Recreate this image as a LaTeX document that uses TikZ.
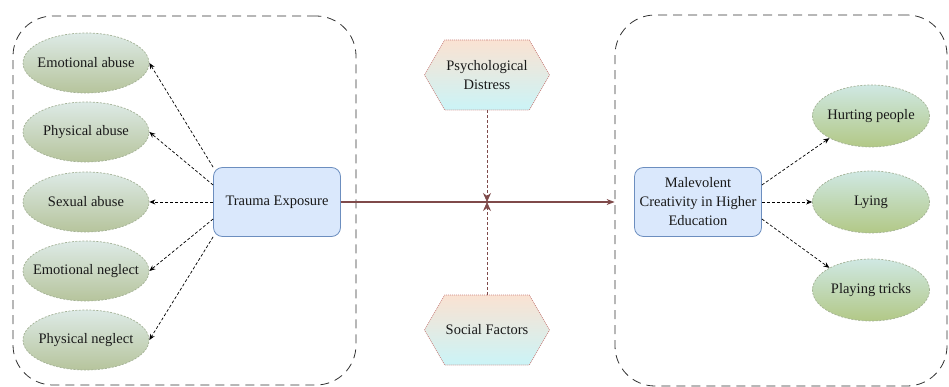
\documentclass[tikz,border=0pt]{standalone}
\usepackage{fontspec}
\setmainfont{Liberation Serif}
\usetikzlibrary{shapes.geometric,shapes.symbols,arrows.meta}

\definecolor{boxfill}{HTML}{DAE8FC}
\definecolor{boxdraw}{HTML}{6C8EBF}
\definecolor{ovaldraw}{HTML}{A3B195}
\definecolor{lefttop}{HTML}{DDEAE6}
\definecolor{leftbot}{HTML}{B6C49C}
\definecolor{righttop}{HTML}{CFE8E3}
\definecolor{rightbot}{HTML}{B2C886}
\definecolor{hexdraw}{HTML}{C8817D}
\definecolor{hextop}{HTML}{FAE2D2}
\definecolor{hexbot}{HTML}{CBF4F7}
\definecolor{mainline}{HTML}{7F4A4A}

\begin{document}
\begin{tikzpicture}[x=1pt, y=-1pt,
    font=\fontsize{14.5}{19}\selectfont, text=black!90,
    group/.style={rectangle, draw=black!80, line width=0.8pt, dash pattern=on 9pt off 6pt, rounded corners=40pt, inner sep=0pt},
    leftoval/.style={ellipse, draw=ovaldraw, line width=0.7pt, dash pattern=on 2pt off 1.5pt, top color=lefttop, bottom color=leftbot, minimum width=126pt, minimum height=60pt, inner sep=0pt},
    rightoval/.style={ellipse, draw=ovaldraw, line width=0.7pt, dash pattern=on 2pt off 1.5pt, top color=righttop, bottom color=rightbot, minimum width=117pt, minimum height=62pt, inner sep=0pt},
    block/.style={rectangle, rounded corners=9pt, draw=boxdraw, fill=boxfill, line width=0.8pt, minimum width=127pt, minimum height=69pt, align=center, inner sep=2pt},
    hexa/.style={signal, signal to=east and west, signal pointer angle=120, draw=hexdraw, line width=0.7pt, dash pattern=on 1pt off 1pt, top color=hextop, bottom color=hexbot, minimum width=125pt, minimum height=70pt, align=center, inner sep=0pt},
    link/.style={-{Stealth[length=6pt,width=5pt]}, line width=0.7pt, dash pattern=on 3pt off 2pt},
    mainlink/.style={draw=mainline, line width=1.1pt, -{Stealth[length=8pt,width=6pt]}},
    modlink/.style={draw=mainline, line width=0.7pt, dash pattern=on 3pt off 2pt, -{Stealth[length=9pt,width=8pt]}}]

    \useasboundingbox (0,0) rectangle (949,387);

    % dashed groups
    \node[group, minimum width=343pt, minimum height=369pt] (lgroup) at (184.5,200.5) {};
    \node[group, minimum width=332pt, minimum height=371pt] (rgroup) at (781,200.5) {};

    % left side
    \node[block] (te) at (277,202) {Trauma Exposure};
    \node[leftoval, label=center:Emotional abuse] (ea) at (86,63) {};
    \node[leftoval, label=center:Physical abuse] (pa) at (86,132) {};
    \node[leftoval, label=center:Sexual abuse] (sa) at (86,202) {};
    \node[leftoval, label=center:Emotional neglect] (en) at (86,271) {};
    \node[leftoval, label=center:Physical neglect] (pn) at (86,340) {};

    \draw[link] (te.north west) -- (ea.east);
    \draw[link] ([yshift=17pt]te.west) -- (pa.east);
    \draw[link] (te.west) -- (sa.east);
    \draw[link] ([yshift=-17pt]te.west) -- (en.east);
    \draw[link] (te.south west) -- (pn.east);

    % moderators
    \node[hexa] (pd) at (487,75) {Psychological\\Distress};
    \node[hexa] (sf) at (487,330) {Social Factors};

    % right side
    \node[block] (mc) at (698,202) {Malevolent\\Creativity in Higher\\Education};
    \node[rightoval, label=center:Hurting people] (hp) at (871,116) {};
    \node[rightoval, label=center:Lying] (ly) at (871,202) {};
    \node[rightoval, label=center:Playing tricks] (pt) at (871,290) {};

    \draw[link] ([yshift=17pt]mc.east) -- (hp.south west);
    \draw[link] (mc.east) -- (ly.west);
    \draw[link] ([yshift=-17pt]mc.east) -- (pt.north west);

    % main path
    \coordinate (mid) at (te.east -| pd.south);
    \draw[mainlink] (te.east) -- (te.east -| rgroup.west);
    \draw[modlink] (pd.south) -- (mid);
    \draw[modlink] (sf.north) -- (mid);
\end{tikzpicture}
\end{document}
